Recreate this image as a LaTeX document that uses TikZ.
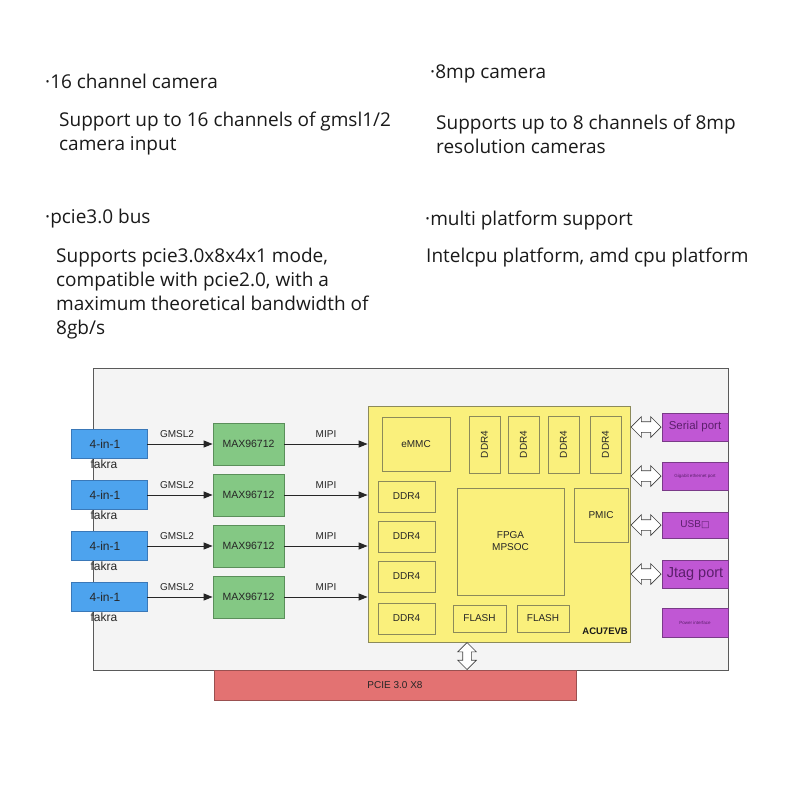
\documentclass[tikz,border=0pt]{standalone}
\usepackage{fontspec}
\setmainfont{Open Sans}
\newfontfamily\diag{Liberation Sans}
\newfontfamily\symf{DejaVu Sans}
\usetikzlibrary{shapes.arrows,calc,arrows.meta}
\definecolor{bluef}{HTML}{4DA3EE}
\definecolor{blued}{HTML}{3A78B8}
\definecolor{greenf}{HTML}{84C884}
\definecolor{greend}{HTML}{5A8F5A}
\definecolor{yelf}{HTML}{FAF07C}
\definecolor{yeld}{HTML}{8C8A5A}
\definecolor{purf}{HTML}{C057D4}
\definecolor{purd}{HTML}{7A3A88}
\definecolor{purt}{HTML}{5C1F6C}
\definecolor{redf}{HTML}{E37272}
\definecolor{redd}{HTML}{9A5050}
\definecolor{grayf}{HTML}{F4F4F4}
\definecolor{grayd}{HTML}{5A5A5A}
\definecolor{txt}{HTML}{1A1A1A}
\begin{document}
\begin{tikzpicture}[x=1pt,y=-1pt,
  box/.style={draw, rectangle, inner sep=0pt, line width=0.8pt, font=\diag\fontsize{10}{12}\selectfont, text=black!85},
  bluebox/.style={box, fill=bluef, draw=blued, minimum width=76pt, minimum height=29pt, font=\diag\fontsize{12}{14}\selectfont},
  greenbox/.style={box, fill=greenf, draw=greend, minimum width=71pt, minimum height=42pt, font=\diag\fontsize{10.5}{12}\selectfont},
  ybox/.style={box, fill=yelf, draw=yeld},
  pbox/.style={box, fill=purf, draw=purd, minimum width=66pt, text=purt},
  arr/.style={-{Triangle[length=9pt,width=7pt]}, line width=1pt, draw=black!85},
  lab/.style={inner sep=0pt, font=\diag\fontsize{10}{12}\selectfont, text=black!85},
  dbl/.style={double arrow, draw=black!75, fill=white, line width=0.7pt, double arrow head extend=5pt, inner sep=5pt},
  tx/.style={inner sep=0pt, anchor=west, align=left, text=txt, font=\fontsize{19}{24}\selectfont}
]
\fill[white] (0,0) rectangle (800,800);
\useasboundingbox (0,0) rectangle (800,800);

% top texts
\node[tx] (t1) at (45,81) {·16 channel camera};
\node[tx] (t2) at (59,134) {Support up to 16 channels of gmsl1/2\\camera input};
\node[tx] (t3) at (45,219) {·pcie3.0 bus};
\node[tx] (t4) at (56,294) {Supports pcie3.0x8x4x1 mode,\\compatible with pcie2.0, with a\\maximum theoretical bandwidth of\\8gb/s};
\node[tx] (t5) at (430,74) {·8mp camera};
\node[tx] (t6) at (436,134) {Supports up to 8 channels of 8mp\\resolution cameras};
\node[tx] (t7) at (425,221) {·multi platform support};
\node[tx] (t8) at (426,258) {Intelcpu platform, amd cpu platform};

% board background
\node[draw=grayd, fill=grayf, line width=0.8pt, minimum width=635pt, minimum height=302pt, inner sep=0pt] (board) at (410.5,519) {};

% yellow module
\node[ybox, minimum width=262pt, minimum height=236pt] (y) at (499,524) {};
\node[ybox, minimum width=68pt, minimum height=54pt] (emmc) at (416,444) {eMMC};
\foreach \n/\x in {1/484.5,2/523.5,3/563.5,4/605.5}
  \node[ybox, minimum width=31pt, minimum height=57pt] (dt\n) at (\x,444.5) {\rotatebox{90}{DDR4}};
\foreach \n/\yy in {1/496.5,2/536.5,3/576.5,4/618.5}
  \node[ybox, minimum width=57pt, minimum height=31pt] (dl\n) at (406.5,\yy) {DDR4};
\node[ybox, minimum width=107pt, minimum height=107pt, align=center] (fpga) at (510.5,541.5) {FPGA\\MPSOC};
\node[ybox, minimum width=54pt, minimum height=54pt] (pmic) at (601,515) {PMIC};
\node[ybox, minimum width=53pt, minimum height=27pt] (fl1) at (479.5,618.5) {FLASH};
\node[ybox, minimum width=52pt, minimum height=27pt] (fl2) at (543,618.5) {FLASH};
\node[inner sep=0pt, anchor=east, font=\diag\bfseries\fontsize{9.5}{11}\selectfont, text=black!90] (acu) at (628,631) {ACU7EVB};

% camera chains
\foreach \i/\yy in {1/444,2/495,3/546,4/597}{
  \node[bluebox] (b\i) at (109,\yy) {\hspace*{-8pt}4-in-1};
  \node[inner sep=0pt, font=\diag\fontsize{12}{14}\selectfont, text=black!85] (f\i) at (104,\yy+20) {fakra};
  \node[greenbox] (g\i) at (248.5,\yy) {MAX96712};
  \draw[arr] (b\i.east) -- node[lab, midway, above=6pt, xshift=-3pt] {GMSL2} (g\i.west);
  \draw[arr] (g\i.east) -- node[lab, midway, above=6pt] {MIPI} (g\i.east -| y.west);
}

% right ports
\node[pbox, minimum height=28pt, font=\diag\fontsize{11.5}{13}\selectfont] (p1) at (695,427) {Serial port};
\node[pbox, minimum height=28pt, font=\diag\fontsize{4.5}{5}\selectfont] (p2) at (695,476) {Gigabit ethernet port};
\node[pbox, minimum height=26pt, font=\diag\fontsize{10}{12}\selectfont] (p3) at (695,525) {USB{\symf\fontsize{9}{10}\selectfont □}};
\node[pbox, minimum height=28pt, font=\diag\fontsize{14.5}{16}\selectfont] (p4) at (695,574) {Jtag port};
\node[pbox, minimum height=29pt, font=\diag\fontsize{4.5}{5}\selectfont] (p5) at (695,622.5) {Power interface};

\foreach \i in {1,2,3,4}
  \node[dbl, minimum height=30pt] (d\i) at ($(p\i.west -| y.east)!0.5!(p\i.west)$) {};

% PCIe
\node[box, fill=redf, draw=redd, minimum width=362pt, minimum height=30pt] (pcie) at (395,685) {PCIE 3.0 X8};
\node[dbl, minimum height=27pt, inner sep=4pt, shape border rotate=90] (dv) at ($(y.south -| 467,0)!0.5!(pcie.north -| 467,0)$) {};
\end{tikzpicture}
\end{document}
